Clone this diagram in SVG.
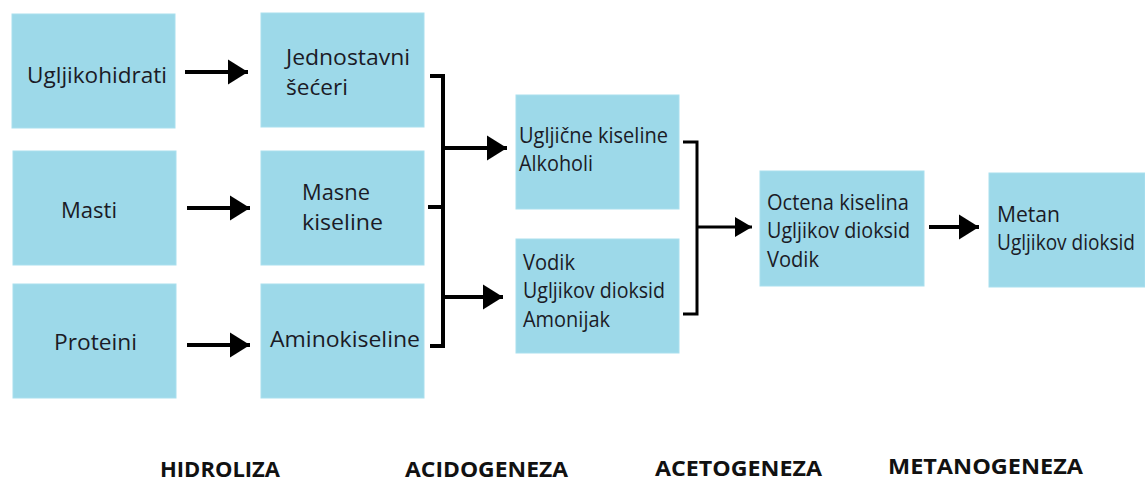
<svg xmlns="http://www.w3.org/2000/svg" width="1145" height="481" viewBox="0 0 1145 481">
<style>
.box{fill:#9dd9e9;stroke:#a9dfee;stroke-width:1}
.t{font-family:"Open Sans","Noto Sans",sans-serif;font-size:21px;fill:#1b1b26}
.h{font-family:"Open Sans","Noto Sans",sans-serif;font-size:22px;font-weight:bold;fill:#111}
.c{stroke:#000;stroke-width:4;fill:none}
.c3{stroke:#000;stroke-width:3;fill:none}
</style>
<defs>
<marker id="ah" markerUnits="userSpaceOnUse" markerWidth="21" markerHeight="26" refX="20" refY="12.5" orient="auto" overflow="visible">
<path d="M0,0 L20,12.5 L0,25 Z" fill="#000"/>
</marker>
<marker id="as" markerUnits="userSpaceOnUse" markerWidth="18" markerHeight="21" refX="17" refY="10" orient="auto" overflow="visible">
<path d="M0,0 L17,10 L0,20 Z" fill="#000"/>
</marker>
</defs>
<rect width="1145" height="481" fill="#fff"/>
<g id="n-ugljikohidrati"><rect class="box" x="12" y="14" width="163" height="114"/><text class="t" x="27" y="83" textLength="140" lengthAdjust="spacingAndGlyphs">Ugljikohidrati</text></g>
<g id="n-masti"><rect class="box" x="13" y="151" width="163" height="114"/><text class="t" x="61" y="218" textLength="56" lengthAdjust="spacingAndGlyphs">Masti</text></g>
<g id="n-proteini"><rect class="box" x="13" y="284" width="163" height="114"/><text class="t" x="54" y="350" textLength="83" lengthAdjust="spacingAndGlyphs">Proteini</text></g>
<g id="n-jednostavni"><rect class="box" x="261" y="13" width="163" height="114"/><text class="t" x="286" y="65" textLength="124" lengthAdjust="spacingAndGlyphs">Jednostavni</text><text class="t" x="286" y="95" textLength="62" lengthAdjust="spacingAndGlyphs">šećeri</text></g>
<g id="n-masne"><rect class="box" x="261" y="151" width="163" height="114"/><text class="t" x="302" y="200" textLength="68" lengthAdjust="spacingAndGlyphs">Masne</text><text class="t" x="302" y="230" textLength="81" lengthAdjust="spacingAndGlyphs">kiseline</text></g>
<g id="n-amino"><rect class="box" x="261" y="284" width="163" height="114"/><text class="t" x="270" y="347" textLength="150" lengthAdjust="spacingAndGlyphs">Aminokiseline</text></g>
<g id="n-ugljicne"><rect class="box" x="516" y="95" width="163" height="114"/><text class="t" x="519" y="143" textLength="149" lengthAdjust="spacingAndGlyphs">Ugljične kiseline</text><text class="t" x="519" y="171" textLength="74" lengthAdjust="spacingAndGlyphs">Alkoholi</text></g>
<g id="n-vodik"><rect class="box" x="516" y="239" width="163" height="114"/><text class="t" x="523" y="270" textLength="52" lengthAdjust="spacingAndGlyphs">Vodik</text><text class="t" x="523" y="298" textLength="142" lengthAdjust="spacingAndGlyphs">Ugljikov dioksid</text><text class="t" x="523" y="327" textLength="87" lengthAdjust="spacingAndGlyphs">Amonijak</text></g>
<g id="n-octena"><rect class="box" x="760" y="171" width="164" height="115"/><text class="t" x="767" y="210" textLength="142" lengthAdjust="spacingAndGlyphs">Octena kiselina</text><text class="t" x="767" y="238" textLength="143" lengthAdjust="spacingAndGlyphs">Ugljikov dioksid</text><text class="t" x="767" y="267" textLength="52" lengthAdjust="spacingAndGlyphs">Vodik</text></g>
<g id="n-metan"><rect class="box" x="989" y="173" width="156" height="114"/><text class="t" x="997" y="222" textLength="63" lengthAdjust="spacingAndGlyphs">Metan</text><text class="t" x="997" y="250" textLength="138" lengthAdjust="spacingAndGlyphs">Ugljikov dioksid</text></g>
<g id="connectors">
<line class="c" x1="185" y1="72" x2="248" y2="72" marker-end="url(#ah)"/>
<line class="c" x1="187" y1="208" x2="250" y2="208" marker-end="url(#ah)"/>
<line class="c" x1="187" y1="345" x2="250" y2="345" marker-end="url(#ah)"/>
<polyline class="c" points="430,76 443,76 443,346 430,346"/>
<line class="c" x1="428" y1="207" x2="443" y2="207"/>
<line class="c" x1="443" y1="148" x2="507" y2="148" marker-end="url(#ah)"/>
<line class="c" x1="443" y1="297" x2="503" y2="297" marker-end="url(#ah)"/>
<polyline class="c3" points="683,142 697,142 697,314 683,314"/>
<line class="c3" x1="697" y1="227" x2="752" y2="227" marker-end="url(#as)"/>
<line class="c" x1="929" y1="227" x2="979" y2="227" marker-end="url(#ah)"/>
</g>
<g id="labels">
<text class="h" x="160" y="477" textLength="120" lengthAdjust="spacingAndGlyphs">HIDROLIZA</text>
<text class="h" x="405" y="477" textLength="163" lengthAdjust="spacingAndGlyphs">ACIDOGENEZA</text>
<text class="h" x="655" y="476" textLength="167" lengthAdjust="spacingAndGlyphs">ACETOGENEZA</text>
<text class="h" x="888" y="474" textLength="195" lengthAdjust="spacingAndGlyphs">METANOGENEZA</text>
</g>
</svg>
